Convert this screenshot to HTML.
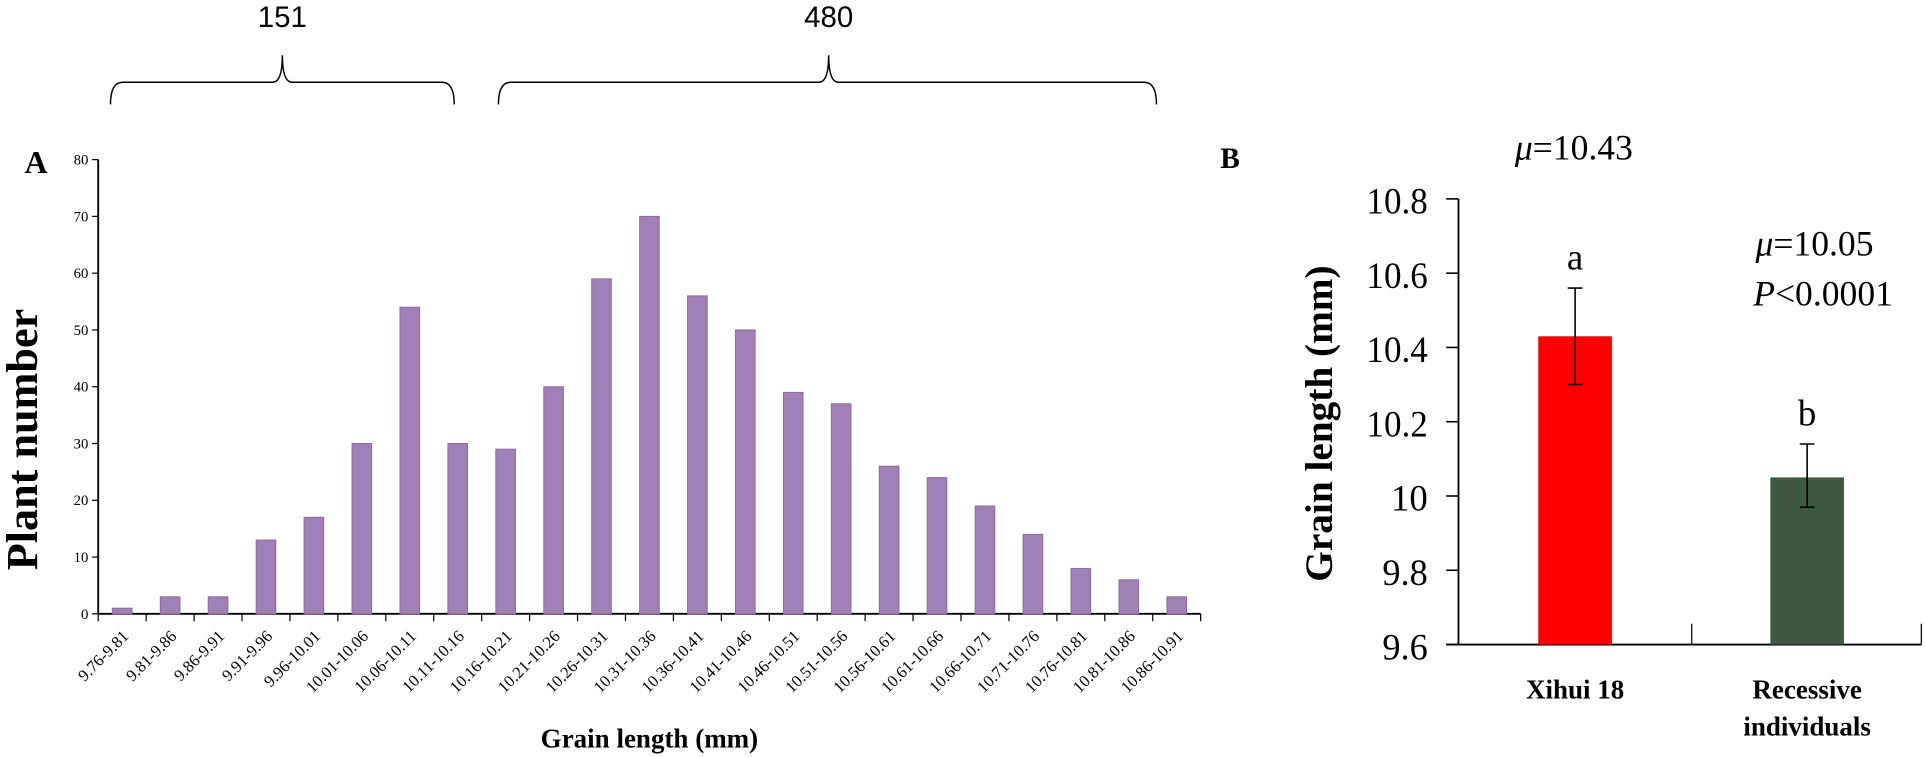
<!DOCTYPE html>
<html><head><meta charset="utf-8"><style>
html,body{margin:0;padding:0;background:#fff;}
svg{display:block;font-family:"Liberation Serif",serif;}
</style></head><body>
<svg id="fig" width="1925" height="757" viewBox="0 0 1568 616.6" xmlns="http://www.w3.org/2000/svg">
<g id="brackets" fill="none" stroke="#000" stroke-width="1.2">
<path d="M90,85 Q90,67 100,67 L222,67 Q230,67 230,45 Q230,67 238,67 L360,67 Q370,67 370,85"/>
<path d="M406,85 Q406,67 416,67 L667,67 Q675,67 675,45 Q675,67 683,67 L932,67 Q942,67 942,85"/>
</g>
<text x="230" y="22" font-family="Liberation Sans,sans-serif" font-size="24" text-anchor="middle">151</text>
<text x="675" y="22" font-family="Liberation Sans,sans-serif" font-size="24" text-anchor="middle">480</text>
<text x="20" y="141" font-size="26" font-weight="bold">A</text>
<text x="994" y="137" font-size="24" font-weight="bold">B</text>
<g id="chartA"></g>
<g id="chartB"></g>
</svg>
<script>
const categories=["9.76-9.81","9.81-9.86","9.86-9.91","9.91-9.96","9.96-10.01","10.01-10.06","10.06-10.11","10.11-10.16","10.16-10.21","10.21-10.26","10.26-10.31","10.31-10.36","10.36-10.41","10.41-10.46","10.46-10.51","10.51-10.56","10.56-10.61","10.61-10.66","10.66-10.71","10.71-10.76","10.76-10.81","10.81-10.86","10.86-10.91"];
const counts=[1,3,3,13,17,30,54,30,29,40,59,70,56,50,39,37,26,24,19,14,8,6,3];
const yTicksA=[0,10,20,30,40,50,60,70,80];
const groupsB=["Xihui 18","Recessive individuals"];
const meansB=[10.43,10.05];
const errLowB=[10.30,9.97];
const errHighB=[10.56,10.14];
const letterB=["a","b"];
const yTicksB=[9.6,9.8,10,10.2,10.4,10.6,10.8];
const NS="http://www.w3.org/2000/svg";
function mk(p,t,a,txt){const e=document.createElementNS(NS,t);for(const k in a)e.setAttribute(k,a[k]);if(txt!==undefined)e.textContent=txt;p.appendChild(e);return e;}
// Chart A
const A=document.getElementById('chartA');
const ax0=80,ax1=978,ay0=500,ay1=130;
const yA=v=>ay0-(v/80)*(ay0-ay1);
const step=(ax1-ax0)/categories.length;
const xA=i=>ax0+step*(i+0.5);
let e;
e=mk(A,'line',{x1:ax0,y1:ay1,x2:ax0,y2:ay0,stroke:'#000','stroke-width':1.5});

e=mk(A,'line',{x1:ax0,y1:ay0,x2:ax1,y2:ay0,stroke:'#000','stroke-width':1.5});

yTicksA.forEach(v=>{
 e=mk(A,'line',{x1:ax0-5,y1:yA(v),x2:ax0,y2:yA(v),stroke:'#000'});
 
 e=mk(A,'text',{x:ax0-8,y:yA(v)+4,'font-size':12,'text-anchor':'end'},v);
 
});
for(let i=0;i<=categories.length;i++){
 e=mk(A,'line',{x1:ax0+step*i,y1:ay0,x2:ax0+step*i,y2:ay0+6,stroke:'#000'});
 
}
categories.forEach((c,i)=>{
 const x=xA(i);
 e=mk(A,'rect',{x:x-8,y:yA(counts[i]),width:16,height:ay0-yA(counts[i]),fill:'#a07fb4',stroke:'#8e6aa5','stroke-width':0.8});
 
 e=mk(A,'text',{x:x+6,y:ay0+19,'font-size':13.5,'text-anchor':'end',transform:`rotate(-45 ${x+6} ${ay0+19})`},c);
 
});
e=mk(A,'text',{x:529,y:609,'font-size':22,'font-weight':'bold','text-anchor':'middle'},'Grain length (mm)');

e=mk(A,'text',{x:0,y:0,'font-size':36,'font-weight':'bold','text-anchor':'middle',transform:'translate(30,358) rotate(-90)'},'Plant number');

// Chart B
const B=document.getElementById('chartB');
const bx0=1188,bx1=1565,by0=525,by1=162;
const yB=v=>by0-(v-9.6)/1.2*(by0-by1);
const bColors=['#ff0000','#3d5a40'];
const bCenters=[1283,1472];
e=mk(B,'line',{x1:bx0,y1:by1,x2:bx0,y2:by0,stroke:'#000','stroke-width':1.5});

e=mk(B,'line',{x1:bx0-10,y1:by0,x2:bx1,y2:by0,stroke:'#000','stroke-width':1.5});

yTicksB.forEach(v=>{
 e=mk(B,'line',{x1:bx0-10,y1:yB(v),x2:bx0,y2:yB(v),stroke:'#000','stroke-width':1.3});
 
 e=mk(B,'text',{x:bx0-25,y:yB(v)+12,'font-size':30,'text-anchor':'end','textLength':String(v).length>3?50:(String(v).length>2?37:30),'lengthAdjust':'spacingAndGlyphs'},String(v));
 
});
[1378,1565].forEach(x=>{
 e=mk(B,'line',{x1:x,y1:by0-17,x2:x,y2:by0,stroke:'#000'});
 
});
groupsB.forEach((g,i)=>{
 const c=bCenters[i];
 e=mk(B,'rect',{x:c-30,y:yB(meansB[i]),width:60,height:by0-yB(meansB[i]),fill:bColors[i]});
 
 e=mk(B,'path',{d:`M${c},${yB(errLowB[i])}V${yB(errHighB[i])}M${c-6},${yB(errLowB[i])}H${c+6}M${c-6},${yB(errHighB[i])}H${c+6}`,stroke:'#000','stroke-width':1.3,fill:'none'});
 
 e=mk(B,'text',{x:c,y:yB(errHighB[i])-15,'font-size':30,'text-anchor':'middle'},letterB[i]);
 
});
e=mk(B,'text',{x:1283,y:569,'font-size':22,'font-weight':'bold','text-anchor':'middle'},'Xihui 18');

e=mk(B,'text',{x:1472,y:569,'font-size':22,'font-weight':'bold','text-anchor':'middle'},'Recessive');

e=mk(B,'text',{x:1472,y:599,'font-size':22,'font-weight':'bold','text-anchor':'middle'},'individuals');

e=mk(B,'text',{x:0,y:0,'font-size':32,'font-weight':'bold','text-anchor':'middle',transform:'translate(1085,345) rotate(-90)'},'Grain length (mm)');

e=mk(B,'text',{x:1282,y:130,'font-size':29,'text-anchor':'middle'});
e.innerHTML='<tspan font-style="italic">μ</tspan>=10.43';

e=mk(B,'text',{x:1478,y:208,'font-size':29,'text-anchor':'middle'});
e.innerHTML='<tspan font-style="italic">μ</tspan>=10.05';

e=mk(B,'text',{x:1485,y:249,'font-size':29,'text-anchor':'middle'});
e.innerHTML='<tspan font-style="italic">P</tspan>&lt;0.0001';

</script>
</body></html>
